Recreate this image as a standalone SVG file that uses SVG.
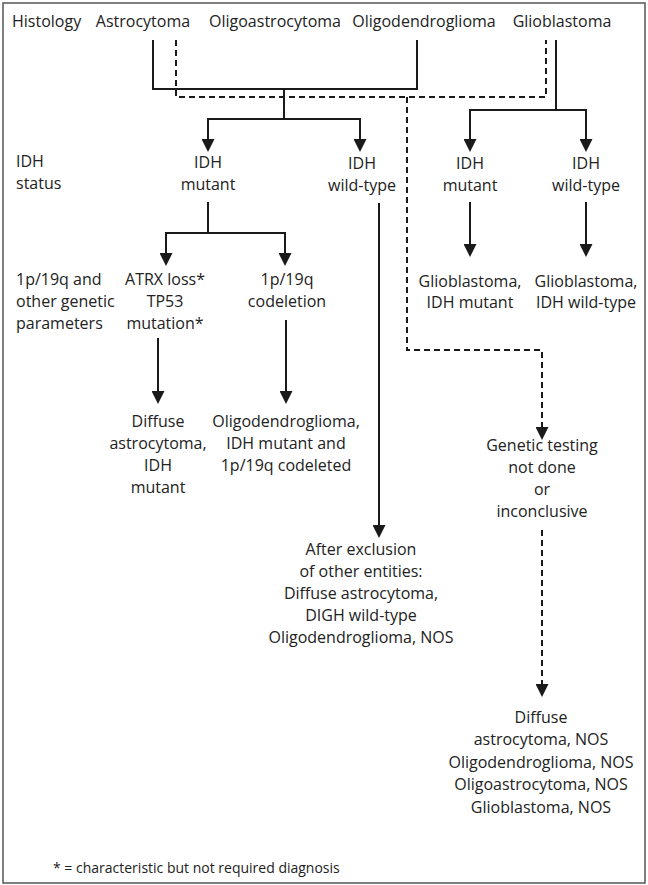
<svg xmlns="http://www.w3.org/2000/svg" width="648" height="885" viewBox="0 0 648 885">
<style>
text{font-family:"Open Sans","Noto Sans",sans-serif;font-size:16px;fill:#222}
.c{text-anchor:middle}
.fn{font-size:14px}
.ln{fill:none;stroke:#1a1a1a;stroke-width:2}
.ds{stroke-dasharray:6 4}
</style>
<defs>
<marker id="ah" markerUnits="userSpaceOnUse" markerWidth="13" markerHeight="13" viewBox="0 0 13 13" refX="11" refY="6.5" orient="auto">
<path d="M0,0 L13,6.5 L0,13 z" fill="#1a1a1a"/>
</marker>
</defs>
<rect x="0" y="0" width="648" height="885" fill="#fff"/>
<rect x="3" y="3" width="642" height="880" fill="#fff" stroke="#555" stroke-width="1.5"/>

<g id="row-labels">
<text x="12" y="27">Histology</text>
<text x="16" y="167">IDH</text>
<text x="16" y="189">status</text>
<text x="16" y="285">1p/19q and</text>
<text x="16" y="307">other genetic</text>
<text x="16" y="329">parameters</text>
</g>

<g id="astrocytoma"><text class="c" x="143" y="27">Astrocytoma</text></g>
<g id="oligoastrocytoma"><text class="c" x="275" y="27">Oligoastrocytoma</text></g>
<g id="oligodendroglioma"><text class="c" x="424" y="27">Oligodendroglioma</text></g>
<g id="glioblastoma"><text class="c" x="562" y="27">Glioblastoma</text></g>

<g id="idh-mutant"><text class="c" x="208" y="168">IDH</text><text class="c" x="208" y="190">mutant</text></g>
<g id="idh-wildtype"><text class="c" x="362" y="169">IDH</text><text class="c" x="362" y="191">wild-type</text></g>
<g id="gbm-idh-mutant"><text class="c" x="470" y="169">IDH</text><text class="c" x="470" y="191">mutant</text></g>
<g id="gbm-idh-wildtype"><text class="c" x="586" y="169">IDH</text><text class="c" x="586" y="191">wild-type</text></g>

<g id="atrx"><text class="c" x="165" y="285">ATRX loss*</text><text class="c" x="165" y="307">TP53</text><text class="c" x="165" y="329">mutation*</text></g>
<g id="codeletion"><text class="c" x="287" y="285">1p/19q</text><text class="c" x="287" y="307">codeletion</text></g>
<g id="gbm-mutant-result"><text class="c" x="470" y="287">Glioblastoma,</text><text class="c" x="470" y="308">IDH mutant</text></g>
<g id="gbm-wildtype-result"><text class="c" x="586" y="287">Glioblastoma,</text><text class="c" x="586" y="308">IDH wild-type</text></g>

<g id="diffuse-astro-result"><text class="c" x="158" y="427">Diffuse</text><text class="c" x="158" y="449">astrocytoma,</text><text class="c" x="158" y="471">IDH</text><text class="c" x="158" y="493">mutant</text></g>
<g id="oligo-result"><text class="c" x="286" y="427">Oligodendroglioma,</text><text class="c" x="286" y="449">IDH mutant and</text><text class="c" x="286" y="471">1p/19q codeleted</text></g>

<g id="genetic-testing"><text class="c" x="542" y="451">Genetic testing</text><text class="c" x="542" y="473">not done</text><text class="c" x="542" y="495">or</text><text class="c" x="542" y="517">inconclusive</text></g>

<g id="after-exclusion"><text class="c" x="361" y="555">After exclusion</text><text class="c" x="361" y="577">of other entities:</text><text class="c" x="361" y="599">Diffuse astrocytoma,</text><text class="c" x="361" y="621">DIGH wild-type</text><text class="c" x="361" y="643">Oligodendroglioma, NOS</text></g>

<g id="nos-result"><text class="c" x="541" y="723">Diffuse</text><text class="c" x="541" y="745">astrocytoma, NOS</text><text class="c" x="541" y="768">Oligodendroglioma, NOS</text><text class="c" x="541" y="790">Oligoastrocytoma, NOS</text><text class="c" x="541" y="813">Glioblastoma, NOS</text></g>

<g id="footnote"><text class="fn" x="53" y="873">* = characteristic but not required diagnosis</text></g>

<g id="connectors">
<path class="ln" d="M153,40 V89 H417 V40"/>
<path class="ln" d="M284,89 V119"/>
<path class="ln" d="M208,119 H360"/>
<path class="ln" d="M208,118 V150" marker-end="url(#ah)"/>
<path class="ln" d="M360,118 V150" marker-end="url(#ah)"/>
<path class="ln" d="M556,40 V110"/>
<path class="ln" d="M470,110 H586"/>
<path class="ln" d="M470,109 V150" marker-end="url(#ah)"/>
<path class="ln" d="M586,109 V150" marker-end="url(#ah)"/>
<path class="ln" d="M208,202 V233"/>
<path class="ln" d="M166,233 H285"/>
<path class="ln" d="M166,232 V264" marker-end="url(#ah)"/>
<path class="ln" d="M285,232 V264" marker-end="url(#ah)"/>
<path class="ln" d="M158,338 V402" marker-end="url(#ah)"/>
<path class="ln" d="M286,320 V402" marker-end="url(#ah)"/>
<path class="ln" d="M470,202 V255" marker-end="url(#ah)"/>
<path class="ln" d="M586,202 V255" marker-end="url(#ah)"/>
<path class="ln" d="M379,203 V536" marker-end="url(#ah)"/>
<path class="ln ds" d="M176,40 V97 H546 V40"/>
<path class="ln ds" d="M407,97 V350 H542 V438" marker-end="url(#ah)"/>
<path class="ln ds" d="M542,530 V695" marker-end="url(#ah)"/>
</g>
</svg>
